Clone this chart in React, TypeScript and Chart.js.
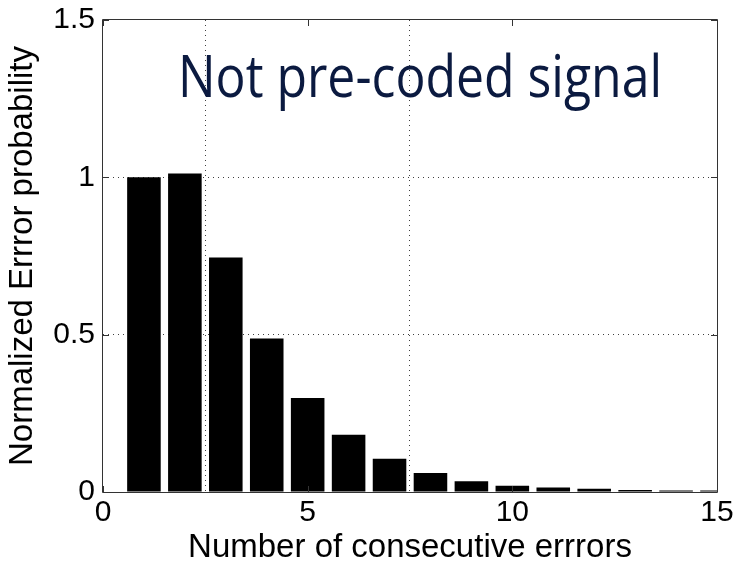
import React, { useEffect, useRef } from "react";
import { Chart, registerables } from "chart.js";

Chart.register(...registerables);

const errorCounts = [1, 2, 3, 4, 5, 6, 7, 8, 9, 10, 11, 12, 13, 14, 15];
const probabilities = [1.0, 1.012, 0.745, 0.488, 0.299, 0.182, 0.106, 0.06, 0.034, 0.02, 0.014, 0.01, 0.006, 0.005, 0.005];
const xTickValues = [0, 5, 10, 15];
const yTickValues = [0, 0.5, 1, 1.5];
const titleText = "Not pre-coded signal";
const xLabel = "Number of consecutive errrors";
const yLabel = "Normalized Errror probability";

const FONT = "'Liberation Sans', Arial, sans-serif";

const boxPlugin = {
  id: "matlabBox",
  afterDraw(chart: any) {
    const { ctx, chartArea } = chart;
    const { left, right, top, bottom } = chartArea;
    const xs = chart.scales.x;
    const ys = chart.scales.y;
    ctx.save();
    ctx.strokeStyle = "#333";
    ctx.lineWidth = 1;
    ctx.beginPath();
    ctx.rect(Math.round(left) - 0.5, Math.round(top) - 0.5, Math.round(right - left) + 1, Math.round(bottom - top) + 1);
    ctx.stroke();
    const tl = 6;
    ctx.beginPath();
    xTickValues.forEach((v) => {
      const px = Math.round(xs.getPixelForValue(v)) + 0.5;
      ctx.moveTo(px, bottom);
      ctx.lineTo(px, bottom - tl);
      ctx.moveTo(px, top);
      ctx.lineTo(px, top + tl);
    });
    yTickValues.forEach((v) => {
      const py = Math.round(ys.getPixelForValue(v)) + 0.5;
      ctx.moveTo(left, py);
      ctx.lineTo(left + tl, py);
      ctx.moveTo(right, py);
      ctx.lineTo(right - tl, py);
    });
    ctx.stroke();

    // annotation title
    ctx.fillStyle = "#0b1a40";
    ctx.font = "58px 'Open Sans', 'Noto Sans', sans-serif";
    ctx.textBaseline = "alphabetic";
    ctx.textAlign = "left";
    const w = ctx.measureText(titleText).width;
    const sx = 484 / w;
    ctx.translate(178, 97);
    ctx.scale(sx, 1);
    ctx.fillText(titleText, 0, 0);
    ctx.restore();
  },
};

export default function App() {
  const ref = useRef<HTMLCanvasElement | null>(null);
  useEffect(() => {
    if (!ref.current) return;
    const chart = new Chart(ref.current, {
      type: "bar",
      data: {
        datasets: [
          {
            data: errorCounts.map((x, i) => ({ x, y: probabilities[i] })),
            backgroundColor: "#000",
            borderWidth: 0,
            barPercentage: 0.82,
            categoryPercentage: 1,
          },
        ],
      },
      options: {
        animation: false,
        responsive: true,
        maintainAspectRatio: false,
        layout: { padding: { left: 0, right: 19, top: 20, bottom: 0 } },
        plugins: { legend: { display: false }, tooltip: { enabled: false } },
        scales: {
          x: {
            type: "linear",
            min: 0,
            max: 15,
            offset: false,
            afterFit: (s: any) => {
              s.height = 74;
              s.paddingLeft = 0;
              s.paddingRight = 0;
            },
            afterBuildTicks: (s: any) => {
              s.ticks = xTickValues.map((v) => ({ value: v }));
            },
            ticks: {
              color: "#000",
              font: { family: FONT, size: 30, lineHeight: 1 },
              padding: 6,
              maxRotation: 0,
              autoSkip: false,
              callback: (v: any) => String(v),
            },
            grid: {
              drawTicks: false,
              color: (c: any) => (c.tick && (c.tick.value === 5 || c.tick.value === 10) ? "rgba(0,0,0,0.75)" : "transparent"),
              lineWidth: 1,
            },
            border: { display: false, dash: [1, 4] },
            title: {
              display: true,
              text: xLabel,
              color: "#000",
              font: { family: FONT, size: 33, lineHeight: 1 },
              padding: { top: 0, bottom: 2 },
            },
          },
          y: {
            type: "linear",
            min: 0,
            max: 1.5,
            afterFit: (s: any) => {
              s.width = 103;
              s.paddingTop = 0;
              s.paddingBottom = 0;
            },
            afterBuildTicks: (s: any) => {
              s.ticks = yTickValues.map((v) => ({ value: v }));
            },
            ticks: {
              color: "#000",
              font: { family: FONT, size: 30, lineHeight: 1 },
              padding: 8,
              callback: (v: any) => String(v),
            },
            grid: {
              drawTicks: false,
              color: (c: any) => (c.tick && (c.tick.value === 0.5 || c.tick.value === 1) ? "rgba(0,0,0,0.75)" : "transparent"),
              lineWidth: 1,
            },
            border: { display: false, dash: [1, 4] },
            title: {
              display: true,
              text: yLabel,
              color: "#000",
              font: { family: FONT, size: 33, lineHeight: 1 },
              padding: { top: 6, bottom: 0 },
            },
          },
        },
      },
      plugins: [boxPlugin],
    } as any);
    return () => chart.destroy();
  }, []);
  return (
    <div style={{ position: "fixed", left: 0, top: 0, width: 736, height: 566, background: "#fff" }}>
      <canvas ref={ref} />
    </div>
  );
}
